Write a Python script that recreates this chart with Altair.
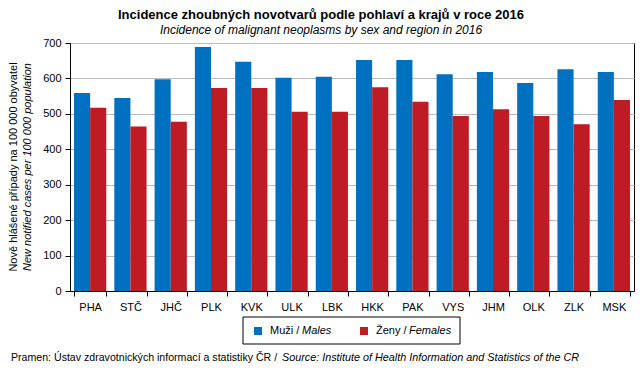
import altair as alt
import pandas as pd

regions = ["PHA", "STČ", "JHČ", "PLK", "KVK", "ULK", "LBK", "HKK", "PAK", "VYS", "JHM", "OLK", "ZLK", "MSK"]
males = [559, 545, 598, 689, 647, 602, 605, 652, 652, 612, 618, 587, 626, 618]
females = [517, 464, 478, 573, 573, 506, 506, 575, 534, 494, 513, 494, 471, 539]
sexes = ["Muži / Males", "Ženy / Females"]
colors = ["#0070c0", "#be1b24"]
y_ticks = [0, 100, 200, 300, 400, 500, 600, 700]

rows = []
for r, m, f in zip(regions, males, females):
    rows.append({"region": r, "sex": sexes[0], "value": m})
    rows.append({"region": r, "sex": sexes[1], "value": f})
df = pd.DataFrame(rows)

FONT = "Liberation Sans"
W, H = 564, 248

bars = alt.Chart(df).mark_bar().encode(
    x=alt.X("region:N", sort=regions,
            scale=alt.Scale(paddingInner=0.2, paddingOuter=0.1),
            axis=alt.Axis(title=None, labelAngle=0, tickBand="extent", tickSize=5,
                          labelPadding=5, grid=False, labelFontSize=11)),
    xOffset=alt.XOffset("sex:N", sort=sexes, scale=alt.Scale(paddingInner=0, paddingOuter=0)),
    y=alt.Y("value:Q", scale=alt.Scale(domain=[0, 700], nice=False),
            axis=alt.Axis(title=None, values=y_ticks, grid=True, gridColor="#bdbdbd",
                          tickSize=5, labelPadding=4, labelFontSize=11)),
    color=alt.Color("sex:N", sort=sexes, scale=alt.Scale(domain=sexes, range=colors), legend=None),
)

one = pd.DataFrame({"k": [0]})

def txt(text, x, y, italic=False, align="left", angle=None, size=11):
    kw = dict(text=text, font=FONT, fontSize=size, align=align, baseline="middle", color="black")
    if italic:
        kw["fontStyle"] = "italic"
    if angle is not None:
        kw["angle"] = angle
    return alt.Chart(one).mark_text(**kw).encode(x=alt.value(x), y=alt.value(y))

ytitle1 = txt("Nově hlášené případy na 100 000 obyvatel", -56, H / 2, align="center", angle=270)
ytitle2 = txt("New notified cases per 100 000 population", -42, H / 2, italic=True, align="center", angle=270)

legend_box = alt.Chart(one).mark_rect(fill="white", stroke="black", strokeWidth=1).encode(
    x=alt.value(173), x2=alt.value(390), y=alt.value(274), y2=alt.value(301))
leg_df = pd.DataFrame({"sex": sexes, "px": [188, 294]})
leg_sq = alt.Chart(leg_df).mark_square(size=64, opacity=1).encode(
    x=alt.X("px:Q", scale=None), y=alt.value(288),
    color=alt.Color("sex:N", sort=sexes, scale=alt.Scale(domain=sexes, range=colors), legend=None))
leg_t1 = txt("Muži /", 200, 288)
leg_t2 = txt("Males", 232, 288, italic=True)
leg_t3 = txt("Ženy /", 306, 288)
leg_t4 = txt("Females", 339, 288, italic=True)

foot1 = txt("Pramen:  Ústav zdravotnických informací a statistiky ČR /", -59, 315, size=10.6)
foot2 = txt("Source: Institute of Health Information and Statistics of the CR", 212, 315, italic=True, size=10.8)

chart = alt.layer(
    bars, ytitle1, ytitle2, legend_box, leg_sq, leg_t1, leg_t2, leg_t3, leg_t4, foot1, foot2
).properties(
    width=W, height=H,
    title=alt.TitleParams(
        text="Incidence zhoubných novotvarů podle pohlaví a krajů v roce 2016",
        subtitle="Incidence of malignant neoplasms by sex and region in 2016",
        anchor="middle", frame="group", dx=-31, offset=1,
        font=FONT, fontSize=13, fontWeight="bold", color="black",
        subtitleFont=FONT, subtitleFontSize=12, subtitleFontStyle="italic",
        subtitleColor="black", subtitlePadding=3,
    ),
    autosize=alt.AutoSizeParams(type="none"),
    padding={"left": 62, "top": 35, "right": 1, "bottom": 76},
).configure_view(
    stroke="black", strokeWidth=1
).configure_axis(
    domainColor="black", tickColor="black", labelColor="black", labelFont=FONT,
)

chart.save("out.html", embed_options={"renderer": "svg", "actions": False})
